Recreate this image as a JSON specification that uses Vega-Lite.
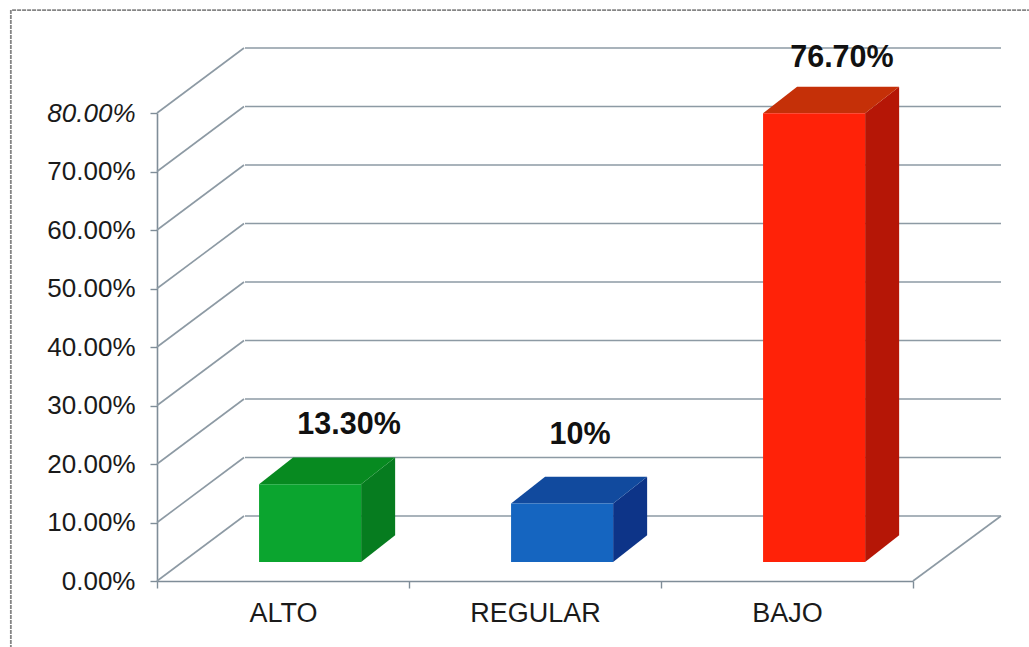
{
"$schema":"https://vega.github.io/schema/vega-lite/v6.json",
"width":756,"height":468,
"autosize":"none",
"padding":{"left":157,"top":113,"right":116,"bottom":66},
"background":"#ffffff",
"view":{"stroke":null},
"config":{"font":"Liberation Sans"},
"datasets":{
 "barras":[
  {"categoria":"ALTO","orden":0,"valor":0.133,"etiqueta":"13.30%"},
  {"categoria":"REGULAR","orden":1,"valor":0.10,"etiqueta":"10%"},
  {"categoria":"BAJO","orden":2,"valor":0.767,"etiqueta":"76.70%"}
 ],
 "marcas":[{"marca":0},{"marca":0.1},{"marca":0.2},{"marca":0.3},{"marca":0.4},{"marca":0.5},{"marca":0.6},{"marca":0.7},{"marca":0.8}]
},
"resolve":{"scale":{"color":"independent"}},
"layer":[
 {"data":{"name":"marcas"},
  "mark":{"type":"rule","color":"#8d9aa4","strokeWidth":1.6,"xOffset":88,"x2Offset":88,"yOffset":-65,"y2Offset":-65},
  "encoding":{
   "x":{"datum":0,"type":"quantitative","scale":{"domain":[0,3],"nice":false,"zero":false},
    "axis":{"title":null,"grid":false,"values":[0,0.5,1,1.5,2,2.5,3],
     "labelExpr":"datum.value===0.5?'ALTO':datum.value===1.5?'REGULAR':datum.value===2.5?'BAJO':''",
     "tickOpacity":{"expr":"datum.value%1===0?1:0"},
     "labelFont":"Liberation Sans","labelFontSize":27,"labelColor":"#1a1a1a","labelPadding":12,"labelFlush":false,"labelOverlap":false,
     "domainColor":"#7f8d98","domainWidth":1.6,"tickColor":"#7f8d98","tickWidth":1.4,"tickSize":7}},
   "x2":{"datum":3},
   "y":{"field":"marca","type":"quantitative","scale":{"domain":[0,0.8],"nice":false,"zero":false},
    "axis":{"title":null,"grid":false,"values":[0,0.1,0.2,0.3,0.4,0.5,0.6,0.7,0.8],"format":".2%",
     "labelFontStyle":{"expr":"datum.value>=0.79?'italic':'normal'"},
     "labelFont":"Liberation Sans","labelFontSize":26,"labelColor":"#1a1a1a","labelPadding":15,
     "domainColor":"#7f8d98","domainWidth":1.6,"tickColor":"#7f8d98","tickWidth":1.4,"tickSize":7}}
  }},
 {"data":{"name":"marcas"},
  "mark":{"type":"rule","color":"#8d9aa4","strokeWidth":1.6,"x2Offset":87,"y2Offset":-65},
  "encoding":{
   "x":{"datum":0,"type":"quantitative"},
   "x2":{"datum":0},
   "y":{"field":"marca","type":"quantitative"},
   "y2":{"field":"marca"}
  }},
 {"data":{"values":[{"marca":0}]},
  "mark":{"type":"rule","color":"#8d9aa4","strokeWidth":1.6,"x2Offset":88,"y2Offset":-65},
  "encoding":{
   "x":{"datum":3,"type":"quantitative"},
   "x2":{"datum":3},
   "y":{"field":"marca","type":"quantitative"},
   "y2":{"field":"marca"}
  }},
 {"data":{"values":[{"marca":0.976}]},
  "mark":{"type":"rule","color":"#858585","strokeWidth":1.8,"strokeDash":[4,1]},
  "encoding":{
   "x":{"datum":-0.575,"type":"quantitative"},
   "x2":{"datum":3.46},
   "y":{"field":"marca","type":"quantitative"}
  }},
 {"data":{"values":[{"marca":0.976}]},
  "mark":{"type":"rule","color":"#858585","strokeWidth":1.8,"strokeDash":[4,1]},
  "encoding":{
   "x":{"datum":-0.58,"type":"quantitative"},
   "y":{"field":"marca","type":"quantitative"},
   "y2":{"datum":-0.113}
  }},
 {"data":{"name":"barras"},
  "transform":[{"calculate":"[0,1]","as":"t"},{"flatten":["t"]},
   {"calculate":"datum.orden+0.81+datum.t*0.135","as":"xc"},
   {"calculate":"0.0325+datum.t*0.0455","as":"y0"},
   {"calculate":"datum.valor+0.0325+datum.t*0.0455","as":"y1"}],
  "mark":{"type":"area","orient":"vertical","opacity":1},
  "encoding":{
   "x":{"field":"xc","type":"quantitative"},
   "y":{"field":"y1","type":"quantitative"},
   "y2":{"field":"y0"},
   "detail":{"field":"categoria"},
   "color":{"field":"categoria","type":"nominal","legend":null,"scale":{"domain":["ALTO","REGULAR","BAJO"],"range":["#067c1f","#0d3488","#b51606"]}}
  }},
 {"data":{"name":"barras"},
  "transform":[{"calculate":"[0,1]","as":"t"},{"flatten":["t"]},
   {"calculate":"datum.orden+0.405+datum.t*0.135","as":"xa"},
   {"calculate":"datum.orden+0.81+datum.t*0.135","as":"xb"},
   {"calculate":"datum.valor+0.0325+datum.t*0.0455","as":"y1"}],
  "mark":{"type":"area","orient":"horizontal","opacity":1},
  "encoding":{
   "y":{"field":"y1","type":"quantitative"},
   "x":{"field":"xa","type":"quantitative"},
   "x2":{"field":"xb"},
   "detail":{"field":"categoria"},
   "color":{"field":"categoria","type":"nominal","legend":null,"scale":{"domain":["ALTO","REGULAR","BAJO"],"range":["#078a20","#114a9e","#c53008"]}}
  }},
 {"data":{"name":"barras"},
  "transform":[
   {"calculate":"datum.orden+0.405","as":"xa"},
   {"calculate":"datum.orden+0.81","as":"xb"},
   {"calculate":"0.0325","as":"y0"},
   {"calculate":"datum.valor+0.0325","as":"y1"}],
  "mark":{"type":"rect"},
  "encoding":{
   "x":{"field":"xa","type":"quantitative"},
   "x2":{"field":"xb"},
   "y":{"field":"y1","type":"quantitative"},
   "y2":{"field":"y0"},
   "color":{"field":"categoria","type":"nominal","legend":null,"scale":{"domain":["ALTO","REGULAR","BAJO"],"range":["#0ba52f","#1565c0","#ff2208"]}}
  }},
 {"data":{"name":"barras"},
  "transform":[
   {"calculate":"datum.orden===0?0.762:datum.orden===1?1.679:2.718","as":"xe"},
   {"calculate":"datum.orden===0?0.267:datum.orden===1?0.25:0.894","as":"ye"}],
  "mark":{"type":"text","font":"Liberation Sans","fontWeight":"bold","fontSize":30.5,"color":"#111111","align":"center","baseline":"middle"},
  "encoding":{
   "x":{"field":"xe","type":"quantitative"},
   "y":{"field":"ye","type":"quantitative"},
   "text":{"field":"etiqueta"}
  }}
]
}
